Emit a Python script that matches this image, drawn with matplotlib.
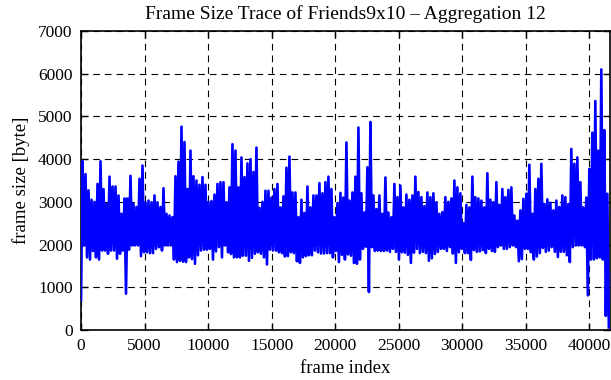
import numpy as np
import matplotlib
matplotlib.use('Agg')
from matplotlib import pyplot as plt

########## DATA ##########

# upper envelope of the trace, one value per ~236 frames
peaks = [3950, 3650, 3270, 3050, 3000, 3420, 3950, 3300, 2950, 3590,
         3360, 3360, 3150, 2720, 3080, 3080, 3610, 2950, 2880, 3540,
         3850, 2990, 3030, 2990, 3150, 2990, 2880, 3320, 2720, 2680,
         2640, 3600, 3940, 4760, 4400, 3300, 4200, 3600, 3500, 3400,
         3580, 3400, 3000, 3020, 3170, 3420, 3460, 3460, 2990, 3340,
         4350, 4200, 3340, 4040, 3580, 3900, 4000, 3700, 4270, 2860,
         3000, 3260, 3260, 3100, 3300, 3420, 2870, 3130, 3800, 4060,
         3220, 3220, 2640, 3050, 2740, 3360, 2870, 3150, 3150, 3440,
         3200, 3460, 3590, 3300, 2640, 2970, 3210, 3100, 4390, 3030,
         3220, 3590, 4740, 3200, 2750, 3810, 4870, 3150, 2830, 3150,
         2720, 3570, 2750, 2640, 3420, 3110, 3380, 2870, 3170, 3050,
         3150, 3590, 3230, 3110, 2900, 3220, 3110, 3200, 2990, 2720,
         2760, 3110, 3000, 3080, 3500, 3340, 3200, 2500, 2930, 2870,
         3590, 3110, 3080, 3030, 2870, 3670, 3050, 2990, 3460, 2930,
         3300, 3110, 3280, 3340, 2680, 2560, 2800, 3070, 3190, 3870,
         2720, 3300, 3540, 3890, 2950, 3060, 2980, 2800, 3030, 2880,
         3150, 3110, 2950, 4240, 3890, 4040, 3460, 2870, 3100, 3770,
         4620, 5360, 4200, 6100, 4680, 3190]

# lower envelope, interleaved with the peaks
troughs = [690, 1980, 1700, 1650, 1850, 1700, 1650, 1860, 1860, 1785,
           1860, 1860, 1670, 1785, 1860, 850, 1880, 1980, 1980, 1980,
           1730, 1820, 1820, 1800, 1800, 1900, 1940, 1860, 1980, 1980,
           1980, 1650, 1590, 1620, 1600, 1590, 1700, 1660, 1550, 1750,
           1860, 1880, 1880, 1900, 1650, 1840, 1940, 1700, 1980, 1820,
           1780, 1700, 1700, 1700, 1740, 1740, 1620, 1690, 1785, 1820,
           1785, 1700, 1535, 1880, 1860, 1860, 1820, 1800, 1720, 1730,
           1820, 1800, 1610, 1570, 1700, 1730, 1750, 1750, 1860, 1820,
           1790, 1790, 1800, 1800, 1700, 1850, 1590, 1760, 1650, 1770,
           1740, 1570, 1550, 1650, 1900, 1950, 890, 1940, 1850, 1860,
           1850, 1850, 1860, 1830, 1900, 1830, 1650, 1820, 1810, 1760,
           1570, 1810, 1900, 1800, 1830, 1800, 1620, 1680, 1780, 1830,
           1900, 1900, 1850, 1940, 1790, 1570, 1820, 1900, 1800, 1800,
           1640, 1870, 1830, 1840, 1870, 1800, 1900, 1850, 1830, 1940,
           1980, 1900, 1900, 1940, 1980, 1940, 1610, 1660, 1900, 1900,
           1820, 1650, 1720, 1800, 1920, 1830, 1860, 1940, 1830, 1710,
           1830, 1830, 1750, 1590, 1940, 1980, 1980, 1980, 1940, 810,
           1650, 1650, 1680, 1700, 1650, 330, 60]

step = 236  # frames between two envelope samples
x_ticks = [0, 5000, 10000, 15000, 20000, 25000, 30000, 35000, 40000]
y_ticks = [0, 1000, 2000, 3000, 4000, 5000, 6000, 7000]

# interleave troughs and peaks into one trace
frames = []
sizes = []
for k in range(len(troughs)):
    frames.append(k * step)
    sizes.append(troughs[k])
    if k < len(peaks):
        frames.append(k * step + step / 2)
        sizes.append(peaks[k])
frames = np.array(frames)
sizes = np.array(sizes)

########## PLOT ##########

plt.rcParams['font.family'] = ['Liberation Serif', 'DejaVu Serif']
plt.rcParams['font.size'] = 13.5

fig = plt.figure(figsize=(6.11, 3.80), dpi=100)
ax = fig.add_axes([0.1326, 0.1316, 0.8658, 0.7868])

ax.plot(frames, sizes, color='#0000ff', linewidth=1.9, zorder=3)

ax.set_xlim(0, 41630)
ax.set_ylim(0, 7000)
ax.set_xticks(x_ticks)
ax.set_yticks(y_ticks)
ax.tick_params(direction='in', top=True, right=True, length=5, width=1,
               pad=6, labelsize=12.5)
ax.grid(True, color='black', linestyle=(0, (6, 4.5)), linewidth=0.8)
ax.set_axisbelow(True)
for s in ax.spines.values():
    s.set_linewidth(1.2)

ax.set_title('Frame Size Trace of Friends9x10 \u2013 Aggregation 12', fontsize=14, pad=9)
ax.set_xlabel('frame index', labelpad=4)
ax.set_ylabel('frame size [byte]', labelpad=6)

plt.savefig('out.png', dpi=100)
